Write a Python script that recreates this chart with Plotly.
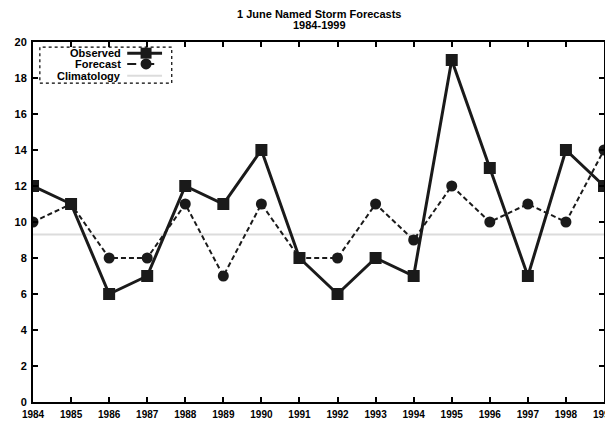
import plotly.graph_objects as go

years = list(range(1984, 2000))
observed = [12, 11, 6, 7, 12, 11, 14, 8, 6, 8, 7, 19, 13, 7, 14, 12]
forecast = [10, 11, 8, 8, 11, 7, 11, 8, 8, 11, 9, 12, 10, 11, 10, 14]
climatology = [9.3] * len(years)
year_labels = [str(y) for y in years]
y_ticks = list(range(0, 21, 2))
title_lines = ["1 June Named Storm Forecasts", "1984-1999"]

FAM = "Liberation Sans, Arial, sans-serif"
font = dict(family=FAM, size=10, color="black", weight="bold")
yfont = dict(family=FAM, size=11, color="black", weight="bold")

fig = go.Figure()
fig.add_trace(go.Scatter(x=years, y=climatology, mode="lines", name="Climatology",
                         line=dict(color="#dcdcdc", width=2), showlegend=False))
fig.add_trace(go.Scatter(x=years, y=observed, mode="lines+markers", name="Observed",
                         line=dict(color="#1a1a1a", width=3),
                         marker=dict(symbol="square", size=12, color="#1a1a1a"), showlegend=False))
fig.add_trace(go.Scatter(x=years, y=forecast, mode="lines+markers", name="Forecast",
                         line=dict(color="#1a1a1a", width=2, dash="5px,3px"),
                         marker=dict(symbol="circle", size=11, color="#1a1a1a"), showlegend=False))

axis_common = dict(showgrid=False, zeroline=False, showline=True, linecolor="black", linewidth=2,
                   mirror="ticks", ticks="inside", ticklen=5, tickcolor="black", tickwidth=1.5,
                   automargin=False, ticklabeloverflow="allow")

# page body has an 8px margin: size the figure to fit the 613x425 window
fig.update_layout(
    width=605, height=417,
    margin=dict(l=25, r=9, t=34, b=23),
    paper_bgcolor="white", plot_bgcolor="white",
    font=font,
    showlegend=False,
    xaxis=dict(range=[1984, 1999], tickvals=years, ticktext=year_labels, ticklabelstandoff=2,
               tickfont=font, **axis_common),
    yaxis=dict(range=[0, 20], tickvals=y_ticks, ticklabelstandoff=2, tickfont=yfont, **axis_common),
)

# title as two centered text lines
for txt, yy in zip(title_lines, [1.078, 1.046]):
    fig.add_annotation(xref="paper", yref="paper", x=0.501, y=yy, text=txt, showarrow=False,
                       xanchor="center", yanchor="middle",
                       font=dict(family=FAM, size=11, color="black", weight="bold"))

# custom legend (text left of sample, as in the reference)
rows = [("Observed", 0.969, "solid", 3, "square"),
        ("Forecast", 0.939, "dash", 2, "circle"),
        ("Climatology", 0.906, "solid", 2, None)]
for name, yy, dash, w, sym in rows:
    fig.add_annotation(xref="paper", yref="paper", x=0.157, y=yy, text=name, showarrow=False,
                       xanchor="right", yanchor="middle", font=dict(family=FAM, size=11, color="black", weight="bold"))
    col = "#dcdcdc" if sym is None else "#1a1a1a"
    fig.add_shape(type="line", xref="paper", yref="paper", x0=0.165, x1=0.226, y0=yy, y1=yy,
                  line=dict(color=col, width=w, dash=dash))
    if sym is not None:
        fig.add_shape(type="rect" if sym == "square" else "circle", xref="paper", yref="paper",
                      xsizemode="pixel", ysizemode="pixel", xanchor=0.198, yanchor=yy,
                      x0=-5.5, x1=5.5, y0=-5.5, y1=5.5,
                      fillcolor="#1a1a1a", line=dict(color="#1a1a1a", width=0))
fig.add_shape(type="rect", xref="paper", yref="paper", x0=0.012, x1=0.243, y0=0.886, y1=0.986,
              line=dict(color="black", width=1.2, dash="dot"))
fig.write_html("out.html")
